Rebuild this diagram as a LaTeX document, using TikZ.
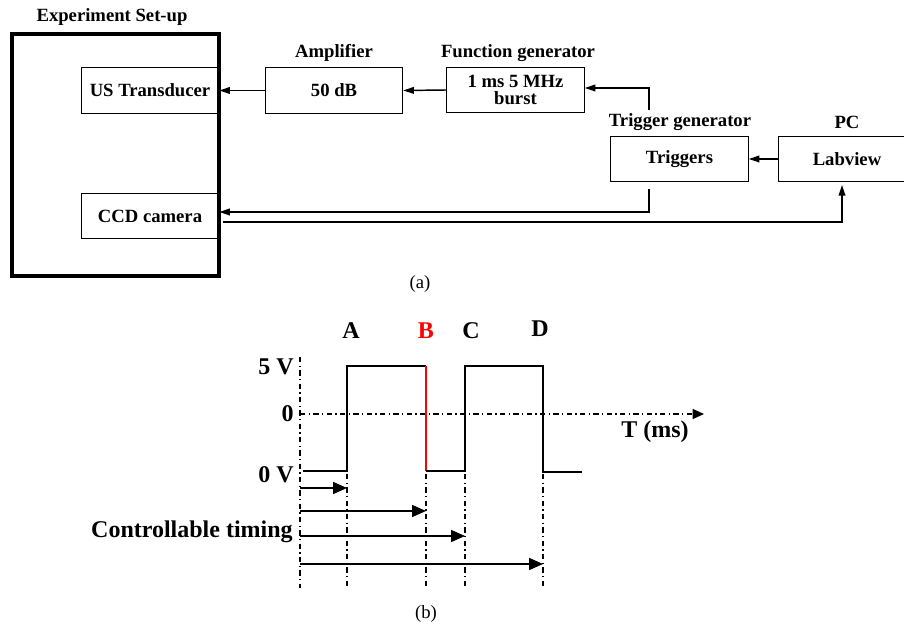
\documentclass[tikz,border=0pt]{standalone}
\usepackage{fontspec}
\setmainfont{Liberation Serif}
\usetikzlibrary{arrows.meta,calc}
\begin{document}
\begin{tikzpicture}[x=0.75pt,y=-0.75pt,
  box/.style={draw,line width=0.8pt,minimum width=103pt,minimum height=34pt,inner sep=0pt,font=\fontsize{14}{16}\selectfont\bfseries,align=center},
  ttl/.style={font=\fontsize{14}{16}\selectfont\bfseries,inner sep=0pt},
  conn/.style={line width=1.1pt,-{Triangle[length=8pt,width=5pt]}},
  wave/.style={line width=1.7pt},
  dd/.style={line width=0.9pt,dash pattern=on 4pt off 2.5pt on 1pt off 2.5pt},
  tarr/.style={line width=1.2pt,-{Triangle[length=10.5pt,width=9pt]}},
  lbl/.style={font=\fontsize{18}{20}\selectfont\bfseries,inner sep=0pt},
  captxt/.style={font=\fontsize{14}{16}\selectfont,inner sep=0pt}]
\useasboundingbox (0,0) rectangle (904,630);
\clip (0,0) rectangle (904,630);
% part (a)
\node[draw,line width=3pt,minimum width=155pt,minimum height=181.5pt,inner sep=0pt] (setup) at (115.5,155) {};
\node[ttl] (tsetup) at (112,17) {Experiment Set-up};
\node[box] (us) at (150,90.5) {US Transducer};
\node[box] (ccd) at (150,216) {CCD camera};
\node[box] (amp) at (334,90.5) {50 dB};
\node[ttl] (tamp) at (334,53) {Amplifier};
\node[box] (func) at (515.5,90) {1 ms 5 MHz\\[-3pt]burst};
\node[ttl] (tfunc) at (518,53) {Function generator};
\node[box] (trig) at (679.5,159) {Triggers};
\node[ttl] (ttrig) at (680,122) {Trigger generator};
\node[box] (pc) at (847,159) {Labview};
\node[ttl] (tpc) at (847,122) {PC};
\coordinate (t1) at (649,110);
\coordinate (t2) at (649,189);
\coordinate (p1) at (842,185);
\draw[conn] (amp.west) -- (us.east);
\draw[conn] (func.west) -- (amp.east);
\draw[conn] (t1) |- ([yshift=1.5pt]func.east);
\draw[conn] (pc.west) -- (trig.east);
\draw[conn] (t2) |- ([yshift=3pt]ccd.east);
\draw[conn] ([xshift=2.5pt,yshift=-4.5pt]ccd.east) -| (p1);
\node[captxt] (capa) at (420,284) {(a)};
% part (b)
\coordinate (o) at (300,414);
\draw[dd] (300,357) -- (300,588);
\draw[dd,-{Triangle[length=8.5pt,width=7.5pt]}] (300,414) -- (704,414);
\draw[wave] (303,471) -- (347,471) -- (347,366) -- (426,366);
\draw[wave,red] (426,366) -- (426,471);
\draw[wave] (426,471) -- (465,471) -- (465,366) -- (543,366) -- (543,472) -- (582,472);
\foreach \x in {347,426,465,543} \draw[dd] (\x,474) -- (\x,588);
\draw[tarr] (300,488) -- (347,488);
\draw[tarr] (300,511) -- (426,511);
\draw[tarr] (300,536) -- (465,536);
\draw[tarr] (300,564) -- (543,564);
\node[lbl] (la) at (351,331) {A};
\node[lbl,text=red] (lb) at (426,331) {B};
\node[lbl] (lc) at (471,331) {C};
\node[lbl] (ld) at (540,329) {D};
\node[lbl,anchor=east] (l5) at (294,367) {5 V};
\node[lbl,anchor=east] (l0) at (294,414) {0};
\node[lbl,anchor=east] (l0v) at (294,475) {0 V};
\node[lbl] (lt) at (655,432) {T (ms)};
\node[lbl,anchor=east] (lct) at (293,532) {Controllable timing};
\node[captxt] (capb) at (426,614) {(b)};
\end{tikzpicture}
\end{document}
